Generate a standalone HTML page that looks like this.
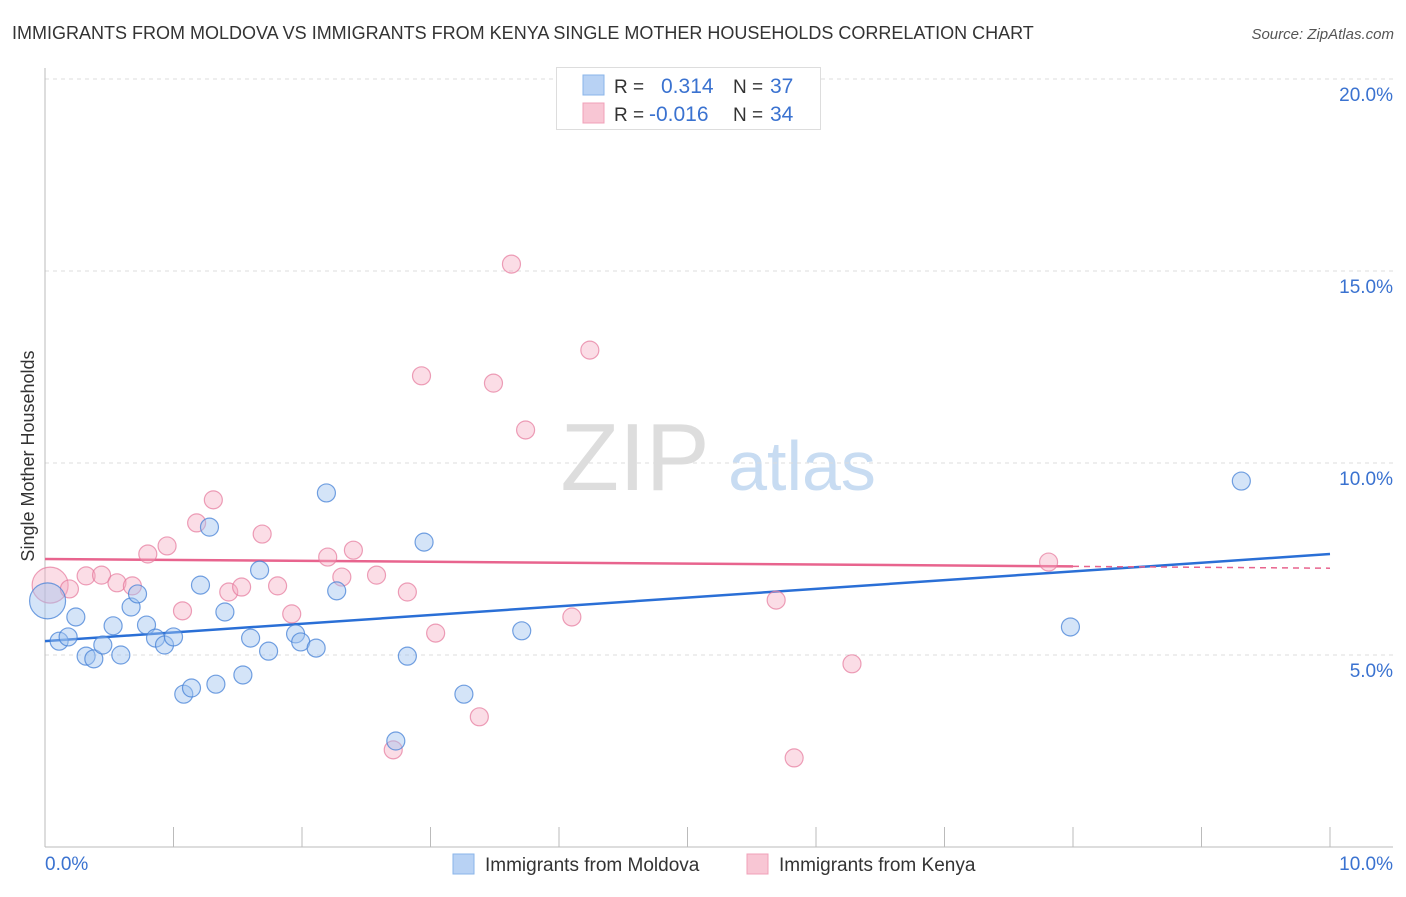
<!DOCTYPE html>
<html><head><meta charset="utf-8"><style>
body{margin:0;background:#fff;font-family:"Liberation Sans",sans-serif;}
svg text{font-family:"Liberation Sans",sans-serif;}
</style></head><body>
<svg id="chart" width="1406" height="892" viewBox="0 0 1406 892" xmlns="http://www.w3.org/2000/svg">
<text x="12" y="39" font-size="18" fill="#333">IMMIGRANTS FROM MOLDOVA VS IMMIGRANTS FROM KENYA SINGLE MOTHER HOUSEHOLDS CORRELATION CHART</text>
<text x="1394" y="39" font-size="15" fill="#555" text-anchor="end" font-style="italic">Source: ZipAtlas.com</text>
<g>
<text x="635" y="490" font-size="96" fill="#ddd" font-family="Liberation Serif,serif" text-anchor="middle">ZIP</text>
<text x="802" y="490" font-size="70" fill="#c8dcf2" text-anchor="middle">atlas</text>
</g>
<g id="grid"></g>
<g id="axes"></g>
<text transform="translate(34,456) rotate(-90)" font-size="18" fill="#333" text-anchor="middle">Single Mother Households</text>
<g id="lines"></g>
<g id="points"></g>
<g>
<rect x="556.5" y="67.5" width="264" height="62" fill="#fff" stroke="#ddd"/>
<rect x="583" y="75" width="21" height="20" fill="#b8d2f4" stroke="#8ab4ea"/>
<rect x="583" y="103" width="21" height="20" fill="#f8c6d4" stroke="#f0a0b8"/>
<text x="614" y="93" font-size="19" fill="#333">R =</text>
<text x="661" y="93" font-size="21" fill="#3a72d0">0.314</text>
<text x="733" y="93" font-size="19" fill="#333">N =</text>
<text x="770" y="93" font-size="21" fill="#3a72d0">37</text>
<text x="614" y="121" font-size="19" fill="#333">R =</text>
<text x="649" y="121" font-size="21" fill="#3a72d0">-0.016</text>
<text x="733" y="121" font-size="19" fill="#333">N =</text>
<text x="770" y="121" font-size="21" fill="#3a72d0">34</text>
</g>
<g>
<rect x="453" y="854" width="21" height="20" fill="#b8d2f4" stroke="#8ab4ea"/>
<text x="485" y="871" font-size="19" fill="#333">Immigrants from Moldova</text>
<rect x="747" y="854" width="21" height="20" fill="#f8c6d4" stroke="#f0a0b8"/>
<text x="779" y="871" font-size="19" fill="#333">Immigrants from Kenya</text>
</g>
</svg>
<script>
const yTicks = [5, 10, 15, 20];
const yTickLabels = ["5.0%", "10.0%", "15.0%", "20.0%"];
const xTicks = [0,1,2,3,4,5,6,7,8,9,10];
const moldovaX = [0.02,0.11,0.18,0.24,0.32,0.38,0.45,0.53,0.59,0.67,0.72,0.79,0.86,0.93,1.00,1.08,1.14,1.21,1.28,1.33,1.40,1.54,1.60,1.67,1.74,1.95,1.99,2.11,2.19,2.27,2.73,2.82,2.95,3.26,3.71,7.98,9.31];
const moldovaY = [6.41,5.36,5.47,5.99,4.97,4.90,5.26,5.76,5.00,6.25,6.59,5.78,5.44,5.26,5.47,3.98,4.14,6.82,8.33,4.24,6.12,4.48,5.44,7.21,5.10,5.55,5.34,5.18,9.22,6.67,2.76,4.97,7.94,3.98,5.63,5.73,9.53];
const kenyaX = [0.04,0.19,0.32,0.44,0.56,0.68,0.80,0.95,1.07,1.18,1.31,1.43,1.53,1.69,1.81,1.92,2.20,2.31,2.40,2.58,2.71,2.82,2.93,3.04,3.38,3.49,3.63,3.74,4.10,4.24,5.69,5.83,6.28,7.81];
const kenyaY = [6.82,6.72,7.06,7.08,6.88,6.80,7.63,7.84,6.15,8.44,9.04,6.64,6.77,8.15,6.80,6.07,7.55,7.03,7.73,7.08,2.53,6.64,12.27,5.57,3.39,12.08,15.18,10.86,5.99,12.94,6.43,2.32,4.77,7.42];
const moldovaTrend = [5.36, 7.63];
const kenyaTrend = [7.50, 7.26];
const kenyaTrendSolidEnd = 8.0;

const X = v => 45 + v * 128.5;
const Y = v => 847 - v * 38.4;
const NS = "http://www.w3.org/2000/svg";
function mk(tag, attrs, parent){const e=document.createElementNS(NS,tag);for(const k in attrs)e.setAttribute(k,attrs[k]);parent.appendChild(e);return e;}
const grid=document.getElementById('grid'), axes=document.getElementById('axes'), lines=document.getElementById('lines'), pts=document.getElementById('points');
yTicks.forEach((t,i)=>{
  const l=mk('line',{x1:45,x2:1393,y1:Y(t),y2:Y(t),stroke:'#ddd','stroke-dasharray':'4,4'},grid);
  
  
  const tx=mk('text',{x:1393,y:Y(t)+22,'font-size':19,fill:'#3a72d0','text-anchor':'end'},grid);
  tx.textContent=yTickLabels[i];
  
  
});
const ax=mk('line',{x1:45,x2:1393,y1:847,y2:847,stroke:'#bbb'},axes);


const ay=mk('line',{x1:45,x2:45,y1:68,y2:847,stroke:'#bbb'},axes);


xTicks.forEach(t=>{
  const l=mk('line',{x1:X(t),x2:X(t),y1:827,y2:847,stroke:'#bbb'},axes);
  
  
});
const x0=mk('text',{x:45,y:870,'font-size':19,fill:'#3a72d0'},axes);x0.textContent='0.0%';


const x1=mk('text',{x:1393,y:870,'font-size':19,fill:'#3a72d0','text-anchor':'end'},axes);x1.textContent='10.0%';



const bl=mk('line',{x1:X(0),x2:X(10),y1:Y(moldovaTrend[0]),y2:Y(moldovaTrend[1]),stroke:'#2a6fd6','stroke-width':2.5},lines);


const kAt=x=>kenyaTrend[0]+(kenyaTrend[1]-kenyaTrend[0])*x/10;
const pl=mk('line',{x1:X(0),x2:X(kenyaTrendSolidEnd),y1:Y(kAt(0)),y2:Y(kAt(kenyaTrendSolidEnd)),stroke:'#e8648e','stroke-width':2.5},lines);


const pd=mk('line',{x1:X(kenyaTrendSolidEnd),x2:X(10),y1:Y(kAt(kenyaTrendSolidEnd)),y2:Y(kAt(10)),stroke:'#e8648e','stroke-width':1.5,'stroke-dasharray':'6,5'},lines);



kenyaX.forEach((x,i)=>{
  const c=mk('circle',{cx:X(x),cy:Y(kenyaY[i]),r:i===0?18:9,fill:'rgba(244,170,192,0.4)',stroke:'rgba(230,120,155,0.7)','stroke-width':1.2},pts);
  
  
});
moldovaX.forEach((x,i)=>{
  const c=mk('circle',{cx:X(x),cy:Y(moldovaY[i]),r:i===0?18:9,fill:'rgba(160,195,240,0.45)',stroke:'rgba(70,130,215,0.75)','stroke-width':1.2},pts);
  
  
});
</script>
</body></html>
